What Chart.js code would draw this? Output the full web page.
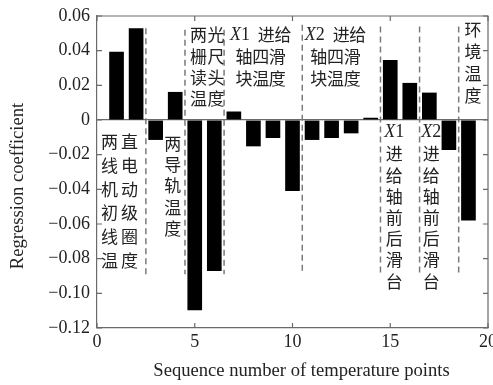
<!DOCTYPE html>
<html>
<head>
<meta charset="utf-8">
<script src="https://cdn.jsdelivr.net/npm/chart.js@4"></script>
<style>
  html, body { margin: 0; padding: 0; background: #fff; }
  canvas { display: block; }
</style>
</head>
<body>
<canvas id="chart" width="493" height="385"></canvas>
<script>
const SERIF = `"Liberation Serif", "Times New Roman", serif`;
const CJK = `"Noto Sans CJK SC", sans-serif`;
const AXIS_COLOR = `#6a6a6a`;
const TEXT_COLOR = `#222`;

// temperature points and their regression coefficients
const seqNumbers = [1, 2, 3, 4, 5, 6, 7, 8, 9, 10, 11, 12, 13, 14, 15, 16, 17, 18, 19];
const coefficients = [0.0394, 0.053, -0.0115, 0.0162, -0.1098, -0.0871, 0.0049, -0.0152, -0.0104,
  -0.041, -0.0115, -0.0104, -0.0077, 0.0013, 0.0346, 0.0214, 0.0158, -0.0173, -0.058];

const xTicks = [0, 5, 10, 15, 20];
const yTicks = [-0.12, -0.10, -0.08, -0.06, -0.04, -0.02, 0, 0.02, 0.04, 0.06];

// dashed group separators (sequence number, from / to coefficient)
const dividerX = [2.5, 4.5, 6.5, 10.5, 14.5, 16.5, 18.5];
const dividerTop = [0.053, 0.052, 0.052, 0.055, 0.054, 0.054, 0.054];
const dividerBottom = [-0.089, -0.089, -0.089, -0.089, -0.089, -0.089, -0.088];

// group names, anchored at (sequence number, coefficient) of the first row
const groupText = [
  [`两直`, `线电`, `机动`, `初级`, `线圈`, `温度`],
  [`两`, `导`, `轨`, `温`, `度`],
  [`两光`, `栅尺`, `读头`, `温度`],
  [`X1 进给`, `轴四滑`, `块温度`],
  [`X2 进给`, `轴四滑`, `块温度`],
  [`环`, `境`, `温`, `度`],
  [`X1`, `进`, `给`, `轴`, `前`, `后`, `滑`, `台`],
  [`X2`, `进`, `给`, `轴`, `前`, `后`, `滑`, `台`],
];
const groupX = [1.15, 3.88, 5.64, 8.37, 12.2, 19.23, 15.2, 17.1];
const groupY = [-0.0124, -0.0134, 0.0491, 0.0491, 0.0491, 0.052, -0.0073, -0.0073];

const X_TITLE = `Sequence number of temperature points`;
const Y_TITLE = `Regression coefficient`;

// text styles per group: row step and character pitch in px
const groupRowStep = [23.8, 21.3, 21.3, 21.7, 21.7, 21.9, 21.2, 21.2];
const groupPitch = [20, 17.5, 17.5, 16.7, 16.7, 17, 17, 17];

const formatY = (v) => {
  if (Math.abs(v) < 1e-9) {
    return `0`;
  }
  return (v < 0 ? `\u2212` : ``) + Math.abs(v).toFixed(2);
};

const drawMixedLine = (ctx, text, cx, cy, pitch) => {
  const parts = [];
  for (const ch of text) {
    if (ch === `X`) {
      ctx.font = `italic 18px ${SERIF}`;
      parts.push({ch, font: ctx.font, w: ctx.measureText(ch).width});
    } else if (/[0-9]/.test(ch)) {
      ctx.font = `18px ${SERIF}`;
      parts.push({ch, font: ctx.font, w: ctx.measureText(ch).width});
    } else if (ch === ` `) {
      parts.push({ch, font: null, w: 8});
    } else {
      parts.push({ch, font: `17px ${CJK}`, w: pitch});
    }
  }
  const total = parts.reduce((s, p) => s + p.w, 0);
  let x = cx - total / 2;
  ctx.textBaseline = `middle`;
  ctx.textAlign = `center`;
  ctx.fillStyle = TEXT_COLOR;
  parts.forEach((p) => {
    if (p.font) {
      ctx.font = p.font;
      ctx.fillText(p.ch, x + p.w / 2, cy);
    }
    x += p.w;
  });
};

const framePlugin = {
  id: `frame`,
  afterDraw(chart) {
    const {ctx, chartArea: area, scales: {x, y}} = chart;
    const tick = 5;
    ctx.save();

    // top and right edges of the box
    ctx.strokeStyle = AXIS_COLOR;
    ctx.lineWidth = 1.2;
    ctx.beginPath();
    ctx.moveTo(area.left, area.top);
    ctx.lineTo(area.right, area.top);
    ctx.lineTo(area.right, area.bottom);
    ctx.stroke();

    // inward ticks on all four sides
    ctx.beginPath();
    xTicks.forEach((v) => {
      const px = x.getPixelForValue(v);
      ctx.moveTo(px, area.bottom);
      ctx.lineTo(px, area.bottom - tick);
      ctx.moveTo(px, area.top);
      ctx.lineTo(px, area.top + tick);
    });
    yTicks.forEach((v) => {
      const py = y.getPixelForValue(v);
      ctx.moveTo(area.left, py);
      ctx.lineTo(area.left + tick, py);
      ctx.moveTo(area.right, py);
      ctx.lineTo(area.right - tick, py);
    });
    ctx.stroke();

    // dashed separators
    ctx.strokeStyle = `#7a7a7a`;
    ctx.lineWidth = 1.5;
    ctx.setLineDash([6, 4]);
    ctx.beginPath();
    dividerX.forEach((v, i) => {
      const px = x.getPixelForValue(v);
      ctx.moveTo(px, y.getPixelForValue(dividerTop[i]));
      ctx.lineTo(px, y.getPixelForValue(dividerBottom[i]));
    });
    ctx.stroke();
    ctx.setLineDash([]);

    // group names
    groupText.forEach((lines, i) => {
      const cx = x.getPixelForValue(groupX[i]);
      const cy = y.getPixelForValue(groupY[i]);
      lines.forEach((line, j) => {
        drawMixedLine(ctx, line, cx, cy + j * groupRowStep[i], groupPitch[i]);
      });
    });

    // axis titles
    ctx.fillStyle = TEXT_COLOR;
    ctx.textAlign = `center`;
    ctx.textBaseline = `middle`;
    ctx.font = `18.6px ${SERIF}`;
    ctx.fillText(X_TITLE, (area.left + area.right) / 2 + 9, 371.5);

    ctx.translate(18, (area.top + area.bottom) / 2 + 14);
    ctx.rotate(-Math.PI / 2);
    ctx.font = `18.6px ${SERIF}`;
    ctx.fillText(Y_TITLE, 0, 0);

    ctx.restore();
  }
};

const ctx = document.getElementById(`chart`).getContext(`2d`);

new Chart(ctx, {
  type: `bar`,
  data: {
    datasets: [{
      data: seqNumbers.map((n, i) => ({x: n, y: coefficients[i]})),
      backgroundColor: `#000`,
      borderWidth: 0,
      barPercentage: 0.75,
      categoryPercentage: 1,
    }],
  },
  options: {
    responsive: false,
    animation: false,
    devicePixelRatio: 1,
    layout: {
      padding: {top: 16, right: 5, left: 0, bottom: 0},
    },
    plugins: {
      legend: {display: false},
      tooltip: {enabled: false},
    },
    scales: {
      x: {
        type: `linear`,
        min: 0,
        max: 20,
        offset: false,
        afterBuildTicks: (scale) => {
          scale.ticks = xTicks.map((v) => ({value: v}));
        },
        ticks: {
          color: TEXT_COLOR,
          font: {family: SERIF, size: 18},
          padding: 3,
          maxRotation: 0,
          autoSkip: false,
        },
        grid: {
          offset: false,
          drawOnChartArea: false,
          drawTicks: false,
        },
        border: {color: AXIS_COLOR, width: 1.2},
        afterFit: (scale) => {
          scale.height = 57;
          scale.paddingLeft = 0;
          scale.paddingRight = 0;
        },
      },
      y: {
        min: -0.12,
        max: 0.06,
        afterBuildTicks: (scale) => {
          scale.ticks = yTicks.map((v) => ({value: v}));
        },
        ticks: {
          color: TEXT_COLOR,
          font: {family: SERIF, size: 18},
          padding: 7,
          callback: (v) => formatY(v),
        },
        grid: {
          drawTicks: false,
          lineWidth: 1.2,
          color: (c) => (c.tick && Math.abs(c.tick.value) < 1e-9 ? AXIS_COLOR : `rgba(0,0,0,0)`),
        },
        border: {color: AXIS_COLOR, width: 1.2},
        afterFit: (scale) => {
          scale.width = 97;
          scale.paddingTop = 0;
          scale.paddingBottom = 0;
        },
      },
    },
  },
  plugins: [framePlugin],
});
</script>
</body>
</html>
